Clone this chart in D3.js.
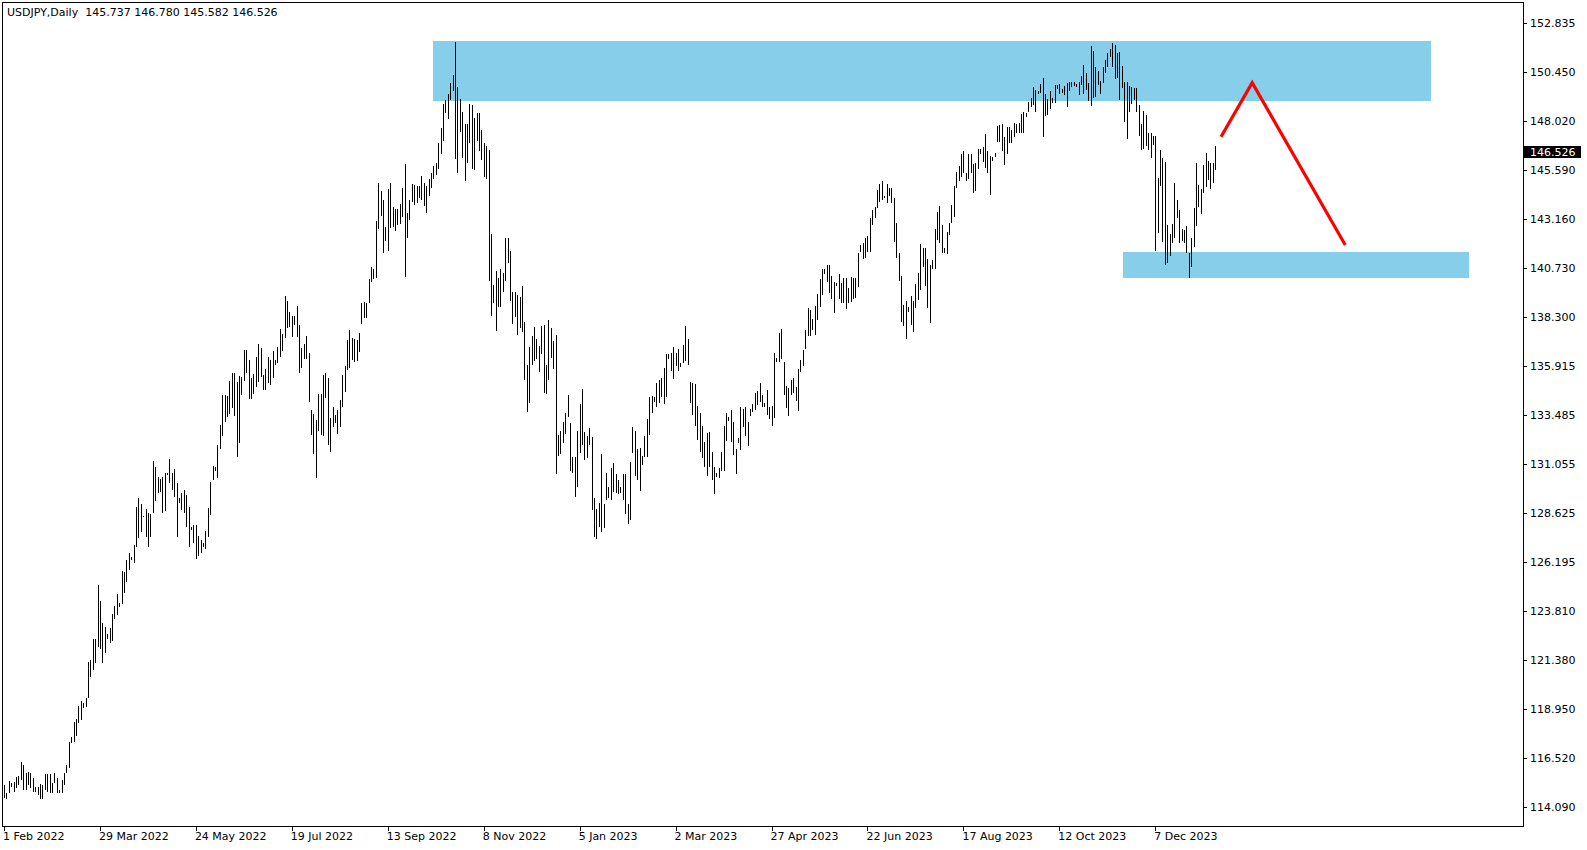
<!DOCTYPE html>
<html><head><meta charset="utf-8">
<script src="https://cdn.jsdelivr.net/npm/d3@7/dist/d3.min.js"></script>
<style>
html,body{margin:0;padding:0;background:#fff;overflow:hidden;}
svg{display:block;}
text{font-family:"DejaVu Sans",sans-serif;font-size:11px;fill:#000;}
</style></head><body>
<svg id="chart" width="1587" height="850"></svg>
<script>
// ---------- data ----------
const symbolName = "USDJPY,Daily";
const lastOHLC = [145.737, 146.780, 145.582, 146.526];
const xTickBars = [0, 40, 80, 120, 160, 200, 240, 280, 320, 360, 400, 440, 480];
const xTickLabels = ["1 Feb 2022","29 Mar 2022","24 May 2022","19 Jul 2022","13 Sep 2022","8 Nov 2022",
  "5 Jan 2023","2 Mar 2023","27 Apr 2023","22 Jun 2023","17 Aug 2023","12 Oct 2023","7 Dec 2023"];
const yTickValues = [152.835,150.450,148.020,145.590,143.160,140.730,138.300,135.915,133.485,
  131.055,128.625,126.195,123.810,121.380,118.950,116.520,114.090];
const highs = [
115.19,114.78,115.39,115.27,115.36,115.60,115.64,116.31,116.18,115.77,
115.82,115.77,115.52,115.08,115.11,115.24,115.19,115.74,115.74,115.72,
115.27,115.80,115.52,114.95,115.44,115.77,116.18,117.33,117.55,118.32,
118.44,119.10,119.36,119.23,119.48,121.29,121.37,122.41,122.39,125.08,
124.29,123.18,123.02,122.66,122.94,123.64,124.04,124.63,124.20,125.78,
125.74,126.31,126.64,126.48,127.05,128.95,129.36,129.08,128.50,128.82,
128.62,128.60,131.20,130.89,130.43,130.30,130.43,130.60,130.63,131.29,
130.60,130.79,130.13,129.36,129.64,129.77,129.52,128.95,127.96,128.04,
128.04,127.50,127.30,127.13,127.76,128.90,130.18,130.96,130.89,132.00,
132.98,134.47,134.47,134.43,135.16,135.54,135.54,135.13,135.41,135.37,
136.69,136.69,136.20,135.32,135.50,136.36,136.99,136.77,135.45,135.73,
136.36,136.20,136.64,136.20,136.86,137.73,137.46,139.37,139.11,138.58,
138.37,138.37,138.88,137.93,136.77,136.97,137.40,136.56,133.72,133.53,
133.23,134.52,134.52,135.45,135.57,135.32,133.31,133.89,133.48,133.72,
134.22,135.45,135.90,137.18,137.68,137.27,137.22,137.18,137.51,139.00,
139.08,139.03,140.20,140.81,140.68,143.07,144.96,144.56,144.10,142.79,
144.65,144.96,143.74,143.64,143.64,143.91,144.71,145.88,143.48,144.10,
144.89,144.84,144.81,144.81,145.29,144.93,144.81,145.14,145.42,145.78,
145.91,146.94,147.68,148.85,149.05,149.34,149.90,150.28,151.91,149.67,
149.09,148.44,147.84,147.84,148.85,148.80,148.17,148.39,148.39,147.56,
146.90,146.77,146.57,142.42,139.90,140.61,140.23,140.69,140.51,142.21,
142.21,141.60,139.57,139.57,139.41,139.33,139.85,138.06,135.95,136.85,
137.40,137.84,137.23,136.90,137.88,137.92,135.95,138.17,137.79,137.13,
137.43,132.49,132.69,133.12,133.56,134.47,133.07,131.40,131.39,132.69,
134.02,134.76,132.62,132.44,132.85,132.37,129.36,128.83,129.11,131.55,
129.10,130.59,129.90,130.84,131.09,130.55,130.26,129.90,130.56,130.55,
129.10,131.14,132.90,132.69,131.80,131.83,131.45,132.44,133.28,134.38,
134.42,134.38,135.08,135.21,135.29,135.78,136.49,136.49,136.56,136.82,
136.52,136.74,136.03,136.94,137.88,137.23,135.12,135.04,135.01,133.92,
133.56,132.93,132.16,132.60,132.65,131.67,130.92,130.63,130.84,131.63,
132.93,133.56,133.40,133.72,133.12,131.80,132.32,133.86,133.77,133.86,
133.15,133.77,134.00,134.55,134.68,135.08,134.47,134.09,134.71,133.89,
133.92,136.56,136.31,137.51,137.71,136.11,134.91,134.80,135.21,135.29,
134.85,135.75,136.20,136.70,137.68,138.75,138.67,138.20,138.86,139.46,
140.20,140.69,140.69,140.89,140.89,140.35,140.07,139.98,140.45,139.98,
140.23,140.23,139.74,140.31,140.23,140.23,141.50,141.88,141.99,142.21,
142.32,143.23,143.61,143.77,144.60,144.89,145.06,144.30,144.89,144.68,
144.68,144.18,142.95,141.47,140.35,138.91,139.13,138.83,139.36,139.13,
139.95,140.51,141.93,141.71,141.71,141.17,140.89,141.14,142.65,143.49,
143.82,142.87,141.71,142.54,142.95,143.86,144.79,145.50,145.78,146.38,
146.52,145.42,146.38,146.38,145.88,145.95,146.61,146.61,146.71,147.36,
146.54,146.28,146.24,146.44,147.76,147.81,147.86,147.23,147.73,147.73,
147.56,147.89,147.86,147.89,148.35,148.47,148.42,148.93,149.13,149.70,
149.54,149.51,149.84,150.12,149.32,149.09,149.49,149.13,149.79,149.79,
149.82,149.57,149.74,149.87,149.92,149.95,149.95,149.84,149.95,150.25,
150.77,150.36,149.87,151.71,151.47,150.66,150.49,150.00,150.69,151.02,
151.35,151.56,151.84,151.76,151.38,151.43,150.72,149.95,149.95,149.74,
149.67,149.62,149.62,148.80,147.86,148.52,148.30,147.43,147.40,147.27,
147.27,145.17,146.57,146.16,145.99,142.87,142.42,142.90,144.93,144.10,
143.61,142.65,142.62,142.82,141.50,142.21,143.69,145.95,144.84,144.63,
145.83,146.41,146.03,145.91,145.91,146.78];
const lows = [
114.53,114.48,114.78,115.11,114.86,115.03,115.19,115.44,114.95,114.95,
115.19,115.03,114.86,114.86,114.70,114.48,114.48,114.95,114.86,114.78,
114.78,115.27,114.78,114.78,114.78,115.19,115.77,116.02,117.25,117.33,
117.61,118.24,118.41,118.98,119.06,119.48,120.55,120.88,121.21,122.03,
121.90,121.24,121.70,122.39,122.19,122.33,123.40,123.59,124.00,124.14,
124.70,125.24,125.82,126.31,126.18,126.97,127.38,127.68,128.42,127.46,
126.97,127.45,128.62,129.24,129.61,129.69,128.62,128.75,130.51,130.10,
129.77,129.44,127.46,129.15,128.78,128.65,127.96,126.97,127.79,127.13,
126.34,126.51,126.64,126.97,126.84,127.46,128.54,130.27,130.72,130.38,
131.80,132.46,133.15,133.40,133.53,133.84,133.45,131.42,132.11,134.47,
135.16,135.57,134.25,134.25,134.50,134.88,135.09,135.37,134.71,134.71,
135.04,134.96,135.29,135.95,136.03,136.36,136.64,137.30,137.79,137.84,
137.35,137.93,137.35,135.54,135.78,136.23,136.23,134.14,132.49,131.55,
130.35,132.70,132.49,132.46,134.30,132.00,131.67,132.90,133.10,132.54,
132.90,133.86,134.60,135.70,135.78,136.20,136.11,136.16,136.57,137.97,
138.26,138.26,139.00,140.03,140.20,140.23,142.67,143.31,141.47,142.09,
141.60,142.70,142.79,142.57,142.87,142.92,143.28,140.31,142.20,143.11,
144.02,143.86,143.97,144.19,144.10,143.82,143.48,144.32,144.68,145.14,
145.34,145.63,146.38,147.02,148.39,148.10,149.05,149.49,146.13,145.42,
147.48,146.16,145.06,145.95,146.94,145.62,145.59,147.02,146.52,146.08,
145.26,145.12,140.12,138.39,138.99,137.65,138.83,138.83,139.57,140.12,
141.00,139.13,137.97,138.34,137.43,137.76,137.60,135.21,133.61,134.09,
135.95,136.16,136.25,135.59,136.49,134.58,134.51,135.21,136.28,135.73,
130.54,131.45,131.55,132.11,132.54,133.36,130.73,130.60,129.44,129.90,
131.61,131.99,131.25,131.34,131.99,128.78,127.43,127.33,127.96,127.70,
127.90,129.28,129.40,129.28,129.69,129.61,129.56,129.61,129.28,128.60,
128.08,128.30,131.58,130.46,130.26,129.74,131.00,131.42,131.42,132.49,
133.56,134.14,133.89,134.05,134.38,134.02,134.35,136.23,135.65,135.24,
135.90,135.65,135.83,136.03,136.15,135.95,134.05,133.48,132.95,132.24,
131.67,131.34,130.92,130.48,130.92,130.26,129.57,130.43,130.35,130.73,
130.73,132.19,133.20,132.16,131.50,130.56,132.11,131.76,132.90,132.44,
131.96,133.43,133.64,133.72,133.97,134.14,133.89,133.89,133.48,133.28,
132.95,133.31,136.08,136.11,136.25,134.47,133.81,133.44,134.47,134.58,
134.17,133.69,135.60,135.90,136.72,137.38,137.38,137.70,137.43,138.17,
138.80,139.41,140.43,140.07,139.52,139.19,138.53,139.85,139.19,139.03,
139.00,138.70,139.03,139.08,139.19,139.24,139.82,141.55,141.17,141.22,
141.55,141.55,142.87,143.23,143.69,144.02,144.10,144.18,143.97,144.30,
143.97,142.04,141.22,140.11,138.09,137.88,137.22,138.58,137.92,137.60,
138.75,139.16,139.65,140.81,139.85,138.75,138.01,140.67,140.67,142.12,
141.99,141.50,141.47,141.43,142.37,142.95,143.25,144.68,145.06,145.26,
145.42,145.06,145.12,145.42,144.46,144.56,145.62,146.38,146.00,145.67,
145.42,144.35,146.05,146.24,146.99,146.99,146.54,145.83,146.38,146.94,
146.94,147.23,147.43,147.43,147.43,147.43,148.19,148.47,148.68,148.80,
148.47,149.34,149.41,147.23,148.25,148.30,148.58,148.90,148.88,149.57,
149.32,149.37,149.29,148.71,149.51,149.67,149.74,149.67,149.29,149.79,
149.34,149.54,148.99,148.76,149.13,149.21,149.79,149.32,149.87,150.36,
150.69,151.19,150.69,150.07,150.12,149.05,149.62,147.97,147.10,148.44,
148.85,149.05,148.47,147.27,146.57,146.61,146.77,146.57,146.16,146.82,
141.60,142.46,144.79,142.04,140.89,140.97,141.34,142.00,142.21,143.20,
141.96,142.09,141.96,141.50,140.23,140.78,141.80,142.82,143.77,143.41,
144.43,144.73,145.09,144.63,144.93,145.58];
// zones: [fromBar, toBar, upper price, lower price]
const zoneUpper = [178.9, 594.9, 151.96, 149.01];
const zoneLower = [466.4, 610.8, 141.53, 140.25];
// projected path: bar index and price
const projBars = [507.4, 520.4, 559.2];
const projPrices = [147.23, 149.90, 141.88];

// ---------- layout ----------
const frameL = 2.5, frameT = 2.5, frameR = 1523.5, frameB = 826.5;
const svg = d3.select("#chart");
const x = d3.scaleLinear().domain([0, 480]).range([4, 1155.3]);
const y = d3.scaleLinear().domain([114.090, 152.835]).range([807.3, 23.3]);
const px = v => Math.round(v) + 0.5;

svg.append("clipPath").attr("id","plot").append("rect")
  .attr("x", frameL).attr("y", frameT).attr("width", frameR-frameL).attr("height", frameB-frameT);
const plot = svg.append("g").attr("clip-path","url(#plot)");

// zones
[zoneUpper, zoneLower].forEach(z => {
  plot.append("rect")
    .attr("x", Math.round(x(z[0]))).attr("width", Math.round(x(z[1]) - x(z[0])))
    .attr("y", Math.round(y(z[2]))).attr("height", Math.round(y(z[3]) - y(z[2])))
    .attr("fill", "#87CEEB");
});

// bars (high-low lines)
plot.append("g").selectAll("line").data(highs).join("line")
  .attr("x1", (d,i) => px(x(i))).attr("x2", (d,i) => px(x(i)))
  .attr("y1", d => Math.round(y(d)))
  .attr("y2", (d,i) => Math.max(Math.round(y(lows[i])), Math.round(y(d)) + 1))
  .attr("stroke", "#000").attr("stroke-width", 1).attr("shape-rendering","crispEdges");

// projection
plot.append("path")
  .attr("d", d3.line().x((d,i)=>x(projBars[i])).y(d=>y(d))(projPrices))
  .attr("fill","none").attr("stroke","#ff0000").attr("stroke-width",3.2)
  .attr("stroke-linejoin","miter");

// frame
svg.append("rect").attr("x", frameL).attr("y", frameT)
  .attr("width", frameR-frameL).attr("height", frameB-frameT)
  .attr("fill","none").attr("stroke","#000").attr("stroke-width",1).attr("shape-rendering","crispEdges");

// y axis ticks & labels
const yAx = svg.append("g");
yAx.selectAll("line").data(yTickValues).join("line")
  .attr("x1", frameR).attr("x2", frameR + 3)
  .attr("y1", d => px(y(d))).attr("y2", d => px(y(d)))
  .attr("stroke","#000").attr("shape-rendering","crispEdges");
yAx.selectAll("text").data(yTickValues).join("text")
  .attr("x", 1530).attr("y", d => y(d) + 4)
  .text(d => d.toFixed(3));

// current price label
const lastClose = lastOHLC[3];
svg.append("rect").attr("x", 1524).attr("y", Math.round(y(lastClose)) - 5)
  .attr("width", 57).attr("height", 12).attr("fill","#000");
svg.append("text").attr("x", 1530).attr("y", Math.round(y(lastClose)) + 5)
  .style("fill","#fff").text(lastClose.toFixed(3));

// x axis ticks & labels
const xAx = svg.append("g");
xAx.selectAll("line").data(xTickBars).join("line")
  .attr("x1", d => px(x(d))).attr("x2", d => px(x(d)))
  .attr("y1", frameB).attr("y2", frameB + 4)
  .attr("stroke","#000").attr("shape-rendering","crispEdges");
xAx.selectAll("text").data(xTickBars).join("text")
  .attr("x", d => x(d) - 1).attr("y", 840)
  .text((d,i) => xTickLabels[i]);

// title
svg.append("text").attr("x", 7).attr("y", 16).style("white-space","pre")
  .text(symbolName + "  " + lastOHLC.map(v => v.toFixed(3)).join(" "));
</script>
</body></html>
